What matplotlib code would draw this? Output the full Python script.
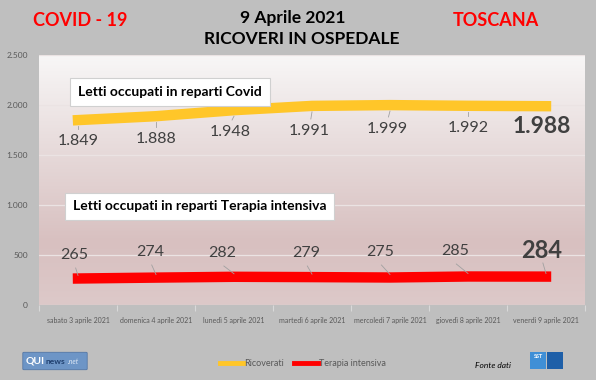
import numpy as np
import matplotlib.pyplot as plt
from matplotlib.colors import LinearSegmentedColormap
from matplotlib.patches import FancyBboxPatch, Rectangle

days = ['sabato 3 aprile 2021', 'domenica 4 aprile 2021', 'lunedì 5 aprile 2021',
        'martedì 6 aprile 2021', 'mercoledì 7 aprile 2021', 'giovedì 8 aprile 2021',
        'venerdì 9 aprile 2021']
ricoverati = [1849, 1888, 1948, 1991, 1999, 1992, 1988]
terapia = [265, 274, 282, 279, 275, 285, 284]
yticks = [0, 500, 1000, 1500, 2000, 2500]
ytick_labels = ['0', '500', '1.000', '1.500', '2.000', '2.500']

W, H = 596, 380
BG = '#bfbfbf'
YELLOW = '#ffc629'
RED = '#ff0000'
TXT = '#404040'

plt.rcParams['font.family'] = ['Lato', 'DejaVu Sans']

fig = plt.figure(figsize=(W / 100, H / 100), dpi=100)
fig.patch.set_facecolor(BG)

ax = fig.add_axes([39 / W, (H - 305) / H, 546 / W, 250 / H])
ax.set_xlim(-0.5, 6.5)
ax.set_ylim(0, 2500)

# gradient background of the plot area
cmap = LinearSegmentedColormap.from_list(
    'bg', [(0, '#ddc9c9'), (0.25, '#d8c0c0'), (0.6, '#e6d9d9'), (1, '#f8f7f7')])
grad = np.linspace(0, 1, 256).reshape(-1, 1)
ax.imshow(grad, extent=(-0.5, 6.5, 0, 2500), origin='lower', aspect='auto',
          cmap=cmap, zorder=0)

for v in yticks[1:]:
    ax.axhline(v, color='#ebe3e3', lw=0.9, zorder=1)

x = np.arange(len(days))
ax.plot(x, ricoverati, color=YELLOW, lw=7.5, solid_capstyle='projecting', zorder=3)
ax.plot(x, terapia, color=RED, lw=7.5, solid_capstyle='projecting', zorder=3)

# data labels (label x shift, label y in data units)
r_pos = [(0, 1640), (0, 1660), (-0.05, 1730), (-0.03, 1740), (-0.04, 1760), (0, 1770), (-0.05, 1780)]
for i, v in enumerate(ricoverati):
    dx, ly = r_pos[i]
    last = i == len(ricoverati) - 1
    lbl = f'{v:,}'.replace(',', '.')
    ax.text(i + dx, ly, lbl, ha='center', va='center', color=TXT,
            fontsize=16.5 if last else 11.5,
            fontweight='bold' if last else 'normal', zorder=5)
    if not last:
        ax.plot([i + dx * 0.5, i], [ly + 120, v - 60], color='#a0a0a0', lw=0.6, zorder=4)

t_pos = [(-0.05, 500), (-0.075, 530), (-0.15, 520), (-0.08, 520), (-0.13, 530), (-0.17, 540), (-0.06, 550)]
for i, v in enumerate(terapia):
    dx, ly = t_pos[i]
    last = i == len(terapia) - 1
    ax.text(i + dx, ly, str(v), ha='center', va='center', color=TXT,
            fontsize=17 if last else 11.5,
            fontweight='bold' if last else 'normal', zorder=5)
    ax.plot([i + dx + 0.02, i], [ly - 130, v + 30], color='#a0a0a0', lw=0.6, zorder=4)

# text boxes
ax.text(0.0, 2130, 'Letti occupati in reparti Covid', fontsize=10, fontweight='bold',
        color='black', va='center', ha='left', zorder=6,
        bbox=dict(boxstyle='square,pad=0.6', fc='white', ec='#d0d0d0', lw=0.8))
ax.text(-0.07, 985, 'Letti occupati in reparti Terapia intensiva', fontsize=10,
        fontweight='bold', color='black', va='center', ha='left', zorder=6,
        bbox=dict(boxstyle='square,pad=0.55', fc='white', ec='#d0d0d0', lw=0.8))

# axes styling
for s in ax.spines.values():
    s.set_visible(False)
ax.axhline(0, color='#d9d9d9', lw=0.9, zorder=2)
ax.set_yticks(yticks)
ax.set_yticklabels(ytick_labels, fontsize=6, color='#595959')
ax.tick_params(axis='y', length=0, pad=8)
ax.set_xticks(x)
ax.set_xticklabels(days, fontsize=5, color='#595959')
ax.tick_params(axis='x', length=0, pad=9)
ax.set_xticks(np.arange(-0.5, 7, 1), minor=True)
ax.tick_params(axis='x', which='minor', length=4, color='#d9d9d9', width=0.8)

# header
fig.text(80 / W, 1 - 21 / H, 'COVID - 19', color='#ff0000', fontsize=13,
         fontweight='bold', ha='center', va='center')
fig.text(496 / W, 1 - 21 / H, 'TOSCANA', color='#ff0000', fontsize=13,
         fontweight='bold', ha='center', va='center')
fig.text(293 / W, 1 - 18 / H, '9 Aprile 2021', color='black', fontsize=12.5,
         fontweight='bold', ha='center', va='center')
fig.text(302 / W, 1 - 39 / H, 'RICOVERI IN OSPEDALE', color='black', fontsize=12.5,
         fontweight='bold', ha='center', va='center')

# legend
ly = 1 - 363 / H
fig.add_artist(plt.Line2D([220 / W, 243 / W], [ly, ly], color=YELLOW, lw=3.5))
fig.text(244 / W, ly, 'Ricoverati', fontsize=6.5, color='#595959', va='center')
fig.add_artist(plt.Line2D([294 / W, 318 / W], [ly, ly], color=RED, lw=3.5))
fig.text(319 / W, ly, 'Terapia intensiva', fontsize=6.5, color='#595959', va='center')
fig.text(475 / W, 1 - 366 / H, 'Fonte dati', fontsize=6, style='italic',
         color='black', va='center')

# logos
fig.add_artist(FancyBboxPatch((24 / W, 1 - 369 / H), 62 / W, 16 / H,
                              boxstyle='round,pad=0.002', fc='#6d95c6', ec='#4a6fa0',
                              lw=0.5, transform=fig.transFigure))
fig.text(26 / W, 1 - 361 / H, 'QUI', fontsize=7.5, fontweight='bold', color='white',
         va='center')
fig.text(45 / W, 1 - 362 / H, 'news', fontsize=6, fontweight='bold', color='#1f3f6e',
         va='center')
fig.text(68 / W, 1 - 362 / H, '.net', fontsize=5, style='italic', color='#dbe6f4',
         va='center')
fig.add_artist(Rectangle((530 / W, 1 - 369 / H), 16 / W, 17 / H, fc='#3f8fd6',
                         ec='none', transform=fig.transFigure))
fig.add_artist(Rectangle((547 / W, 1 - 369 / H), 16 / W, 17 / H, fc='#1e5fa8',
                         ec='none', transform=fig.transFigure))
fig.text(538 / W, 1 - 357 / H, 'SST', fontsize=4, fontweight='bold', color='white',
         ha='center', va='center')

fig.savefig('out.png', dpi=100, facecolor=BG)
